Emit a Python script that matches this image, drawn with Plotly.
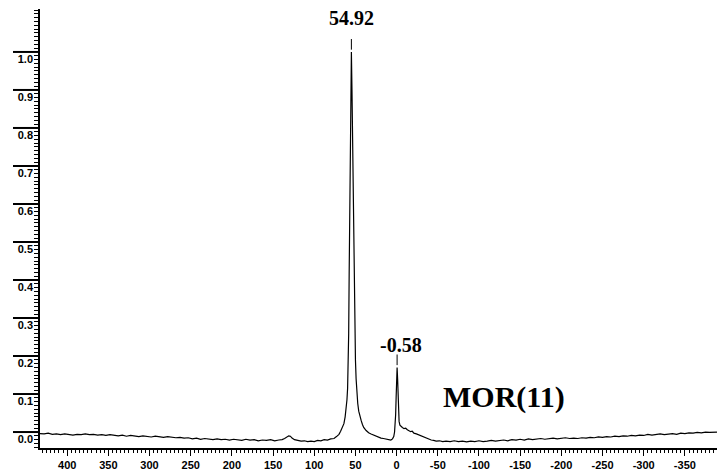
import plotly.graph_objects as go

# ---- data ----
ppm = [433, 428, 423, 418, 413, 408, 403, 398, 393, 388, 383, 378, 373, 368, 363, 358, 353, 348,
       343, 338, 333, 328, 323, 318, 313, 308, 303, 298, 293, 288, 283, 278, 273, 268, 263, 258,
       253, 248, 243, 238, 233, 228, 223, 218, 213, 208, 203, 198, 193, 188, 183, 178, 173, 168,
       163, 158, 153, 148, 143, 139, 136, 133, 131, 129, 127, 124, 120, 116, 112, 108, 104, 100,
       96, 92, 88, 84, 80, 76, 73, 70, 68, 66, 64, 62.5, 61.3, 60.3, 59.5, 59.0, 58.5, 58.2,
       57.6, 56.8, 56.2, 55.7, 54.92, 54.2, 53.5, 52.8, 52.2, 51.8, 51.2, 50.6, 50.0, 49.2, 48.3,
       47.2, 46.0, 44.5, 43.0, 41.5, 40.0, 37, 34, 31, 28, 25, 22, 19, 16, 13, 10, 7, 5, 3.5,
       2.5, 1.8, 1.2, 0.6, 0.1, -0.58, -1.2, -1.7, -2.3, -3.0, -4.0, -5.5, -7, -9, -11, -13, -15,
       -17, -19, -21, -24, -27, -30, -33, -36, -39, -42, -45, -48, -52, -56, -60, -65, -70, -75,
       -80, -85, -90, -95, -100, -105, -110, -115, -120, -125, -130, -135, -140, -145, -150, -155,
       -160, -165, -170, -175, -180, -185, -190, -195, -200, -205, -210, -215, -220, -225, -230,
       -235, -240, -245, -250, -255, -260, -265, -270, -275, -280, -285, -290, -295, -300, -305,
       -310, -315, -320, -325, -330, -335, -340, -345, -350, -355, -360, -365, -370, -375, -380,
       -385, -389]
intensity = [-0.004, -0.005, -0.003, -0.006, -0.005, -0.007, -0.005, -0.006, -0.008, -0.006,
             -0.007, -0.005, -0.007, -0.006, -0.008, -0.007, -0.009, -0.007, -0.008, -0.010,
             -0.008, -0.011, -0.009, -0.010, -0.012, -0.010, -0.011, -0.013, -0.011, -0.012,
             -0.014, -0.012, -0.013, -0.015, -0.014, -0.016, -0.015, -0.018, -0.016, -0.019,
             -0.017, -0.018, -0.020, -0.018, -0.020, -0.019, -0.021, -0.019, -0.020, -0.022,
             -0.019, -0.021, -0.020, -0.023, -0.021, -0.022, -0.020, -0.023, -0.021, -0.020,
             -0.017, -0.012, -0.010, -0.011, -0.016, -0.020, -0.022, -0.024, -0.023, -0.025,
             -0.024, -0.025, -0.022, -0.023, -0.020, -0.021, -0.018, -0.017, -0.012, -0.006,
             0.002, 0.010, 0.022, 0.040, 0.060, 0.085, 0.115, 0.150, 0.200, 0.260,
             0.420, 0.640, 0.800, 0.920, 1.000, 0.900, 0.750, 0.600, 0.480, 0.400, 0.320,
             0.250, 0.190, 0.140, 0.100, 0.075, 0.055, 0.040, 0.030, 0.020, 0.012, 0.004,
             -0.002, -0.005, -0.008, -0.011, -0.013, -0.016, -0.017, -0.019, -0.020, -0.021,
             -0.018, -0.012, 0.000, 0.020, 0.045, 0.090, 0.140, 0.170, 0.140, 0.090, 0.050,
             0.028, 0.018, 0.014, 0.012, 0.009, 0.010, 0.006, 0.004, 0.001, 0.002, -0.003,
             -0.005, -0.008, -0.009, -0.013, -0.016, -0.019, -0.021, -0.022, -0.024, -0.023,
             -0.025, -0.024, -0.025, -0.023, -0.025, -0.024, -0.026, -0.024, -0.025, -0.023,
             -0.025, -0.024, -0.022, -0.024, -0.023, -0.021, -0.023, -0.020, -0.021, -0.019,
             -0.021, -0.018, -0.020, -0.019, -0.017, -0.019, -0.018, -0.016, -0.018, -0.017,
             -0.015, -0.017, -0.016, -0.017, -0.015, -0.016, -0.014, -0.015, -0.013, -0.014,
             -0.012, -0.013, -0.011, -0.012, -0.010, -0.011, -0.009, -0.010, -0.008, -0.009,
             -0.006, -0.008, -0.007, -0.005, -0.007, -0.005, -0.004, -0.006, -0.003, -0.004,
             -0.002, -0.003, -0.001, -0.002, 0.000, -0.001, 0.000, 0.000]

peak_ppm = [54.92, -0.58]
peak_height = [1.00, 0.17]
peak_labels = ["54.92", "-0.58"]
sample_label = "MOR(11)"

x_tick_vals = [400, 350, 300, 250, 200, 150, 100, 50, 0, -50, -100, -150, -200, -250, -300, -350]
x_tick_text = ["400", "350", "300", "250", "200", "150", "100", "50", "0", "-50", "-100",
               "-150", "-200", "-250", "-300", "-350"]
y_tick_vals = [0.0, 0.1, 0.2, 0.3, 0.4, 0.5, 0.6, 0.7, 0.8, 0.9, 1.0]
y_tick_text = ["0.0", "0.1", "0.2", "0.3", "0.4", "0.5", "0.6", "0.7", "0.8", "0.9", "1.0"]

y_range = [-0.042, 1.113]
W, H = 718, 476
M = dict(l=40, r=1, t=9, b=28)
MAJOR_TICK_PX = 27

fig = go.Figure()
fig.add_trace(go.Scatter(x=ppm, y=intensity, mode="lines",
                         line=dict(color="black", width=1.2), hoverinfo="skip", showlegend=False))

# leader lines above the labelled peaks
lx, ly = [], []
for p, h in zip(peak_ppm, peak_height):
    lx += [p, p, None]
    ly += [h + 0.006, h + 0.034, None]
fig.add_trace(go.Scatter(x=lx, y=ly, mode="lines", line=dict(color="black", width=1),
                         hoverinfo="skip", showlegend=False))

# long major y ticks reaching into the left margin
plot_w = W - M["l"] - M["r"]
span = y_range[1] - y_range[0]
for v in y_tick_vals:
    yp = (v - y_range[0]) / span
    fig.add_shape(type="line", xref="paper", yref="paper", x0=-MAJOR_TICK_PX / plot_w, x1=0,
                  y0=yp, y1=yp, line=dict(color="black", width=2), layer="above")

serif = "Liberation Serif, Times New Roman, serif"
fig.add_annotation(x=peak_ppm[0], y=peak_height[0] + 0.034, yanchor="bottom", yshift=8,
                   text=peak_labels[0], showarrow=False,
                   font=dict(family=serif, size=20, color="black", weight="bold"))
fig.add_annotation(x=peak_ppm[1], y=peak_height[1] + 0.034, yanchor="bottom", yshift=-3, xshift=4,
                   text=peak_labels[1], showarrow=False,
                   font=dict(family=serif, size=20, color="black", weight="bold"))
fig.add_annotation(x=-130, y=0.092, text=sample_label, showarrow=False,
                   font=dict(family=serif, size=30, color="black", weight="bold"))

sans = "Liberation Sans, Arial, sans-serif"
fig.update_xaxes(range=[433, -389], tickmode="array", tickvals=x_tick_vals, ticktext=x_tick_text,
                 ticks="outside", ticklen=6, tickwidth=1, tickcolor="black",
                 minor=dict(dtick=5, tick0=0, ticks="outside", ticklen=3, tickwidth=1, tickcolor="black"),
                 showline=True, linewidth=1.5, linecolor="black", showgrid=False, zeroline=False,
                 automargin=False,
                 tickfont=dict(family=sans, size=11, color="black", weight="bold"))

# labels sit just below their tick line: second line of a two-line label
y_tick_display = ["<br><b>" + t + "</b>" for t in y_tick_text]

fig.update_layout(
    width=W, height=H, margin=M,
    paper_bgcolor="white", plot_bgcolor="white", showlegend=False,
    yaxis=dict(range=y_range, tickmode="array", tickvals=y_tick_vals, ticktext=y_tick_display,
               ticks="", ticklabelstandoff=3, automargin=False,
               minor=dict(dtick=0.01, tick0=0, ticks="outside", ticklen=4, tickwidth=1, tickcolor="black"),
               showline=True, linewidth=1.5, linecolor="black", showgrid=False, zeroline=False,
               tickfont=dict(family=sans, size=11, color="black")),
)

fig.write_html("out.html")
